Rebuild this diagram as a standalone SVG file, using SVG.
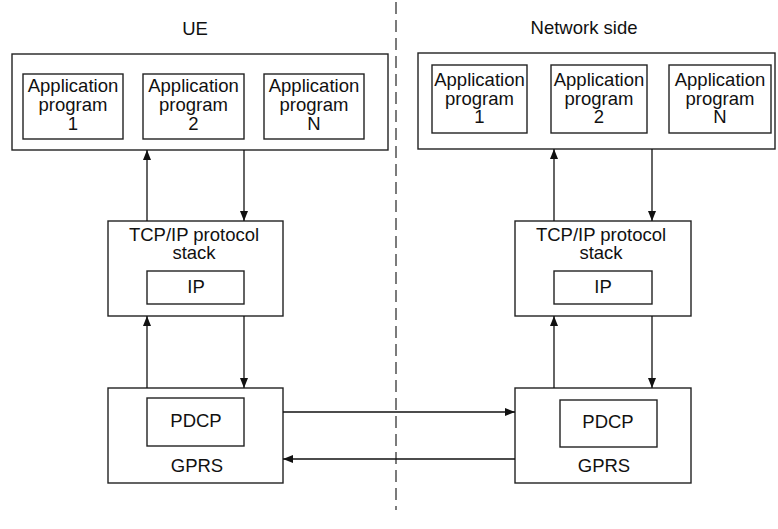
<svg xmlns="http://www.w3.org/2000/svg" width="778" height="529" viewBox="0 0 778 529">
  <style>
    rect { fill: #fff; stroke: #222; stroke-width: 1.4; }
    text { font-family: "Liberation Sans", Arial, sans-serif; font-size: 18.5px; fill: #111; text-anchor: middle; }
    .link { stroke: #111; stroke-width: 1.3; fill: none; marker-end: url(#arrow); }
    .divider { stroke: #444; stroke-width: 1.4; stroke-dasharray: 12 6; fill: none; }
  </style>
  <defs>
    <marker id="arrow" viewBox="0 0 10 10" refX="10" refY="5" markerWidth="10" markerHeight="10" markerUnits="userSpaceOnUse" orient="auto">
      <path d="M0,1 L10,5 L0,9 Z" fill="#111"/>
    </marker>
  </defs>
  <rect width="778" height="529" style="fill:#fff;stroke:none"/>

  <!-- boundary between the two sides -->
  <line class="divider" x1="396" y1="2" x2="396" y2="510"/>

  <text x="195" y="35">UE</text>
  <text x="584" y="34">Network side</text>

  <!-- UE side -->
  <g id="ue-apps">
    <rect x="12" y="54" width="376" height="96"/>
    <g id="ue-app1">
      <rect x="23" y="74" width="100" height="65"/>
      <text x="73" y="92">Application</text>
      <text x="73" y="111">program</text>
      <text x="73" y="130">1</text>
    </g>
    <g id="ue-app2">
      <rect x="143" y="74" width="101" height="65"/>
      <text x="193.5" y="92">Application</text>
      <text x="193.5" y="111">program</text>
      <text x="193.5" y="130">2</text>
    </g>
    <g id="ue-appN">
      <rect x="264" y="74" width="100" height="65"/>
      <text x="314" y="92">Application</text>
      <text x="314" y="111">program</text>
      <text x="314" y="130">N</text>
    </g>
  </g>
  <g id="ue-tcpip">
    <rect x="108" y="221" width="175" height="95"/>
    <text x="194" y="241">TCP/IP protocol</text>
    <text x="194" y="259">stack</text>
    <rect x="147" y="271" width="97" height="33"/>
    <text x="196" y="293">IP</text>
  </g>
  <g id="ue-gprs">
    <rect x="108" y="388" width="175" height="95"/>
    <rect x="147" y="398" width="97" height="48"/>
    <text x="196" y="427">PDCP</text>
    <text x="197" y="472">GPRS</text>
  </g>

  <!-- Network side -->
  <g id="net-apps">
    <rect x="418" y="53" width="357" height="96"/>
    <g id="net-app1">
      <rect x="432" y="65" width="95" height="68"/>
      <text x="479.5" y="86">Application</text>
      <text x="479.5" y="105">program</text>
      <text x="479.5" y="123">1</text>
    </g>
    <g id="net-app2">
      <rect x="551" y="65" width="96" height="68"/>
      <text x="599" y="86">Application</text>
      <text x="599" y="105">program</text>
      <text x="599" y="123">2</text>
    </g>
    <g id="net-appN">
      <rect x="669" y="65" width="102" height="68"/>
      <text x="720" y="86">Application</text>
      <text x="720" y="105">program</text>
      <text x="720" y="123">N</text>
    </g>
  </g>
  <g id="net-tcpip">
    <rect x="515" y="221" width="176" height="95"/>
    <text x="601" y="241">TCP/IP protocol</text>
    <text x="601" y="259">stack</text>
    <rect x="554" y="271" width="98" height="33"/>
    <text x="603" y="293">IP</text>
  </g>
  <g id="net-gprs">
    <rect x="515" y="388" width="176" height="95"/>
    <rect x="560" y="400" width="97" height="47"/>
    <text x="608" y="428">PDCP</text>
    <text x="604" y="472">GPRS</text>
  </g>

  <!-- connectors -->
  <g id="connectors">
    <line class="link" x1="147" y1="221" x2="147" y2="150"/>
    <line class="link" x1="244" y1="150" x2="244" y2="221"/>
    <line class="link" x1="147" y1="388" x2="147" y2="316"/>
    <line class="link" x1="244" y1="316" x2="244" y2="388"/>
    <line class="link" x1="554" y1="221" x2="554" y2="149"/>
    <line class="link" x1="652" y1="149" x2="652" y2="221"/>
    <line class="link" x1="554" y1="388" x2="554" y2="316"/>
    <line class="link" x1="652" y1="316" x2="652" y2="388"/>
    <line class="link" x1="283" y1="412" x2="515" y2="412"/>
    <line class="link" x1="515" y1="459" x2="283" y2="459"/>
  </g>
</svg>
